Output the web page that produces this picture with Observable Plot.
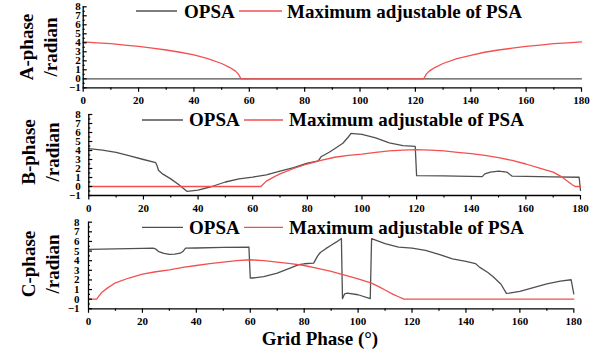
<!DOCTYPE html>
<html><head><meta charset="utf-8">
<script src="https://cdn.jsdelivr.net/npm/d3@7"></script>
<script src="https://cdn.jsdelivr.net/npm/@observablehq/plot@0.6"></script>
<style>
body{margin:0;background:#fff;}
#wrap{position:relative;width:606px;height:358px;overflow:hidden;background:#fff;}
#wrap svg{position:absolute;left:0;}
</style></head><body><div id="wrap"></div>
<script>
// ---------- data ----------
const xMajorTicks = [0,20,40,60,80,100,120,140,160,180];
const xMinorTicks = [10,30,50,70,90,110,130,150,170];
const yMajorTicks = [-1,0,1,2,3,4,5,6,7,8];
const yMinorTicks = [-0.5,0.5,1.5,2.5,3.5,4.5,5.5,6.5,7.5];

const seriesNames = ["OPSA","Maximum adjustable of PSA"];
const panelTitles = ["A-phase","B-phase","C-phase"];
const yUnit = "/radian";
const xTitle = "Grid Phase (°)";

// A-phase
const aOpsaX = [0,180];
const aOpsaY = [0,0];
const aMaxX = [0,5,10,15,20,25,30,35,40,45,50,53,55,56,57,123,124,125,127,130,135,140,145,150,155,160,165,170,175,180];
const aMaxY = [4.1,4.0,3.9,3.75,3.6,3.4,3.2,2.95,2.65,2.25,1.7,1.25,0.85,0.55,0,0,0.55,0.85,1.25,1.7,2.25,2.6,2.95,3.2,3.4,3.6,3.75,3.9,4.0,4.1];

// B-phase
const bOpsaX = [0,5,10,15,20,24.5,25,25.5,27,30,33,36,40,45,50,55,60,65,70,75,80,84,85,88,90,93,95,96,100,105,110,115,119.5,120,130,144,145,147,150,153,155,160,170,179.5,180];
const bOpsaY = [4.2,4.05,3.8,3.4,3.0,2.65,2.3,1.8,1.4,0.85,0.2,-0.55,-0.4,0,0.5,0.85,1.05,1.3,1.7,2.1,2.6,2.85,3.3,3.8,4.2,4.8,5.5,5.9,5.8,5.4,4.85,4.55,4.45,1.2,1.17,1.1,1.4,1.6,1.7,1.6,1.15,1.12,1.08,1.03,-0.45];
const bMaxX = [0,63,65,68,70,75,80,85,90,95,100,105,110,115,120,125,130,135,140,145,150,155,160,165,170,173,175,177,178,180];
const bMaxY = [0,0,0.6,1.1,1.4,2.0,2.5,2.9,3.25,3.45,3.6,3.8,3.95,4.05,4.1,4.05,3.95,3.8,3.65,3.45,3.2,2.9,2.5,2.05,1.6,1.1,0.65,0.2,0,0];

// C-phase
const cOpsaX = [0,10,20,24,25,26,28,30,32,34,35,36,40,50,59.5,60,61,65,70,75,78,80,83.5,85,86,88,90,92,93.8,94.2,95,96,100,104.5,105,110,115,120,125,130,135,140,143.5,145,148,150,153,155,156,160,165,170,175,179,180];
const cOpsaY = [5.18,5.22,5.27,5.3,5.2,4.95,4.75,4.66,4.68,4.78,4.95,5.3,5.32,5.38,5.42,2.2,2.2,2.35,2.7,3.25,3.58,3.68,3.75,4.5,4.85,5.25,5.6,5.95,6.3,0.05,0.56,0.62,0.46,0.05,6.3,5.77,5.42,5.3,5.07,4.66,4.2,3.93,3.7,3.33,2.8,2.35,1.55,0.6,0.62,0.8,1.2,1.6,1.88,2.02,0.56];
const cMaxX = [0,3,5,7,10,15,20,25,30,35,40,45,50,55,60,65,70,75,80,85,90,95,100,105,108,110,113,115,117,180];
const cMaxY = [0,0,0.73,1.15,1.7,2.2,2.6,2.85,3.05,3.3,3.5,3.7,3.85,4.0,4.1,4.0,3.85,3.7,3.5,3.2,2.88,2.5,2.12,1.67,1.25,0.95,0.5,0.25,0,0];

// ---------- build ----------
const GRAY = "#505050", RED = "#f25050";
const FONT = "'Liberation Serif','Times New Roman',serif";
const pts = (xs, ys) => xs.map((x, i) => ({x, y: ys[i]}));

const panels = [
  {opsa: pts(aOpsaX, aOpsaY), max: pts(aMaxX, aMaxY), top: 0,   h: 110, mt: 6.3, mb: 22.7, ml: 82.7, mr: 25,   ypad: 2.5},
  {opsa: pts(bOpsaX, bOpsaY), max: pts(bMaxX, bMaxY), top: 108, h: 110, mt: 6,   mb: 23,   ml: 88.3, mr: 26,   ypad: 8},
  {opsa: pts(cOpsaX, cOpsaY), max: pts(cMaxX, cMaxY), top: 215, h: 115, mt: 6.7, mb: 21.7, ml: 88,   mr: 32.7, ypad: 9}
];

const wrap = document.getElementById("wrap");
for (const p of panels) {
  const chart = Plot.plot({
    width: 606, height: p.h,
    marginTop: p.mt, marginBottom: p.mb, marginLeft: p.ml, marginRight: p.mr,
    x: {domain: [0, 180]},
    y: {domain: [-1, 8]},
    style: {fontFamily: FONT, fontWeight: "bold", fontSize: "11px", background: "transparent", overflow: "visible", color: "#000"},
    marks: [
      Plot.line(p.opsa, {x: "x", y: "y", stroke: GRAY, strokeWidth: 1.3}),
      Plot.line(p.max, {x: "x", y: "y", stroke: RED, strokeWidth: 1.3}),
      Plot.ruleY([-1], {stroke: "#000", strokeWidth: 1.3}),
      Plot.ruleX([0], {stroke: "#000", strokeWidth: 1.3}),
      Plot.axisX({ticks: xMajorTicks, tickSize: 4.5, tickPadding: 4, label: null, strokeWidth: 1.2, tickFormat: d => d}),
      Plot.axisX({ticks: xMinorTicks, tickSize: 2.5, text: null, label: null, strokeWidth: 1.2}),
      Plot.axisY({ticks: yMajorTicks, tickSize: 0, tickPadding: p.ypad, label: null}),
      Plot.axisY({ticks: yMajorTicks, tickSize: -4, text: null, label: null, strokeWidth: 1.2}),
      Plot.axisY({ticks: yMinorTicks, tickSize: -2, text: null, label: null, strokeWidth: 1.2})
    ]
  });
  chart.style.top = p.top + "px";
  wrap.appendChild(chart);
}

// overlay: legends and titles
const svg = d3.select(wrap).append("svg").attr("width", 606).attr("height", 358).style("top", "0px")
  .attr("font-family", FONT).attr("font-weight", "bold").attr("font-size", 19);
const legends = [
  {y: 11,    g: [136, 177], t1: 184, r: [239, 282], t2: 287, base: 17.5},
  {y: 120,   g: [142, 183], t1: 189, r: [244, 283], t2: 289, base: 125.5},
  {y: 227.3, g: [142, 183], t1: 189, r: [244, 283], t2: 289, base: 234}
];
for (const L of legends) {
  svg.append("line").attr("x1", L.g[0]).attr("x2", L.g[1]).attr("y1", L.y).attr("y2", L.y).attr("stroke", GRAY).attr("stroke-width", 1.3);
  svg.append("text").attr("x", L.t1).attr("y", L.base).text(seriesNames[0]);
  svg.append("line").attr("x1", L.r[0]).attr("x2", L.r[1]).attr("y1", L.y).attr("y2", L.y).attr("stroke", RED).attr("stroke-width", 1.3);
  svg.append("text").attr("x", L.t2).attr("y", L.base).text(seriesNames[1]);
}
const ytitles = [{cy: 47, x1: 33, x2: 57}, {cy: 152, x1: 35, x2: 59}, {cy: 264, x1: 35, x2: 59}];
ytitles.forEach((T, i) => {
  svg.append("text").attr("transform", `translate(${T.x1},${T.cy}) rotate(-90)`).attr("text-anchor", "middle").text(panelTitles[i]);
  svg.append("text").attr("transform", `translate(${T.x2},${T.cy}) rotate(-90)`).attr("text-anchor", "middle").text(yUnit);
});
svg.append("text").attr("x", 320).attr("y", 345).attr("text-anchor", "middle").text(xTitle);
</script></body></html>
